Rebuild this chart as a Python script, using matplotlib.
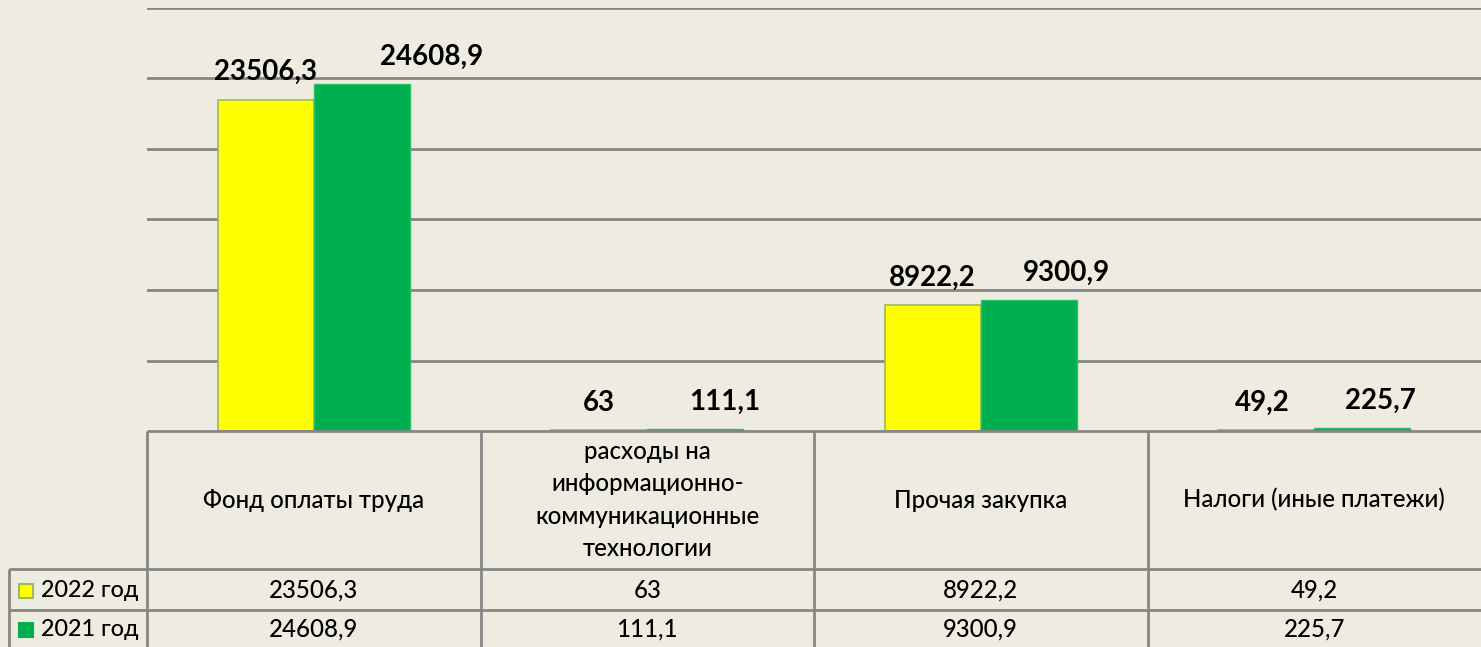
import matplotlib.pyplot as plt
from matplotlib.patches import Rectangle

# ── Data ─────────────────────────────────────────────────────────────────────
categories = [
    "Фонд оплаты труда",
    "расходы на\nинформационно-\nкоммуникационные\nтехнологии",
    "Прочая закупка",
    "Налоги (иные платежи)",
]
series_names = ["2022 год", "2021 год"]
vals_2022 = [23506.3, 63, 8922.2, 49.2]
vals_2021 = [24608.9, 111.1, 9300.9, 225.7]
labels_2022 = ["23506,3", "63", "8922,2", "49,2"]
labels_2021 = ["24608,9", "111,1", "9300,9", "225,7"]

# ── Style ────────────────────────────────────────────────────────────────────
BG     = "#EEECE1"
YELLOW = "#FFFF00"
GREEN  = "#00B050"
GRID   = "#868686"
FONT   = "Lato"
W, H   = 1481, 647
# label x-shifts (points) as placed in the original
shift_2022 = [0, 0, 0, -3]
shift_2021 = [50, 21, 27, 13]

plt.rcParams["font.family"] = [FONT, "DejaVu Sans"]

fig = plt.figure(figsize=(W / 100, H / 100), dpi=100, facecolor=BG)

# pixel layout of plot area
x0, x1 = 147, 1481
y_top, y_base = 8, 431
ax = fig.add_axes([x0 / W, 1 - y_base / H, (x1 - x0) / W, (y_base - y_top) / H])
ax.set_facecolor(BG)

n = len(categories)
idx = list(range(n))
bw = 0.288
ax.bar([i - bw / 2 for i in idx], vals_2022, width=bw, color=YELLOW,
       edgecolor="#9BBB59", linewidth=1.2, zorder=3)
ax.bar([i + bw / 2 for i in idx], vals_2021, width=bw, color=GREEN,
       edgecolor="#2BBF6A", linewidth=1.0, zorder=3)

for i in idx:
    ax.annotate(labels_2022[i], (i - bw / 2, vals_2022[i]),
                xytext=(shift_2022[i], 14), textcoords="offset points",
                ha="center", va="baseline", fontsize=20, fontweight="bold")
    ax.annotate(labels_2021[i], (i + bw / 2, vals_2021[i]),
                xytext=(shift_2021[i], 14), textcoords="offset points",
                ha="center", va="baseline", fontsize=20, fontweight="bold")

ax.set_xlim(-0.5, n - 0.5)
ax.set_ylim(0, 30000)
ax.set_yticks(range(5000, 30001, 5000))
ax.yaxis.grid(True, color=GRID, linewidth=2)
ax.set_axisbelow(True)
ax.tick_params(left=False, bottom=False, labelleft=False, labelbottom=False)
for s in ax.spines.values():
    s.set_visible(False)

# ── Data table (drawn in pixel coordinates) ─────────────────────────────────
tab = fig.add_axes([0, 0, 1, 1], facecolor="none")
tab.set_xlim(0, W)
tab.set_ylim(H, 0)
tab.axis("off")

col_w = (x1 - x0) / n
col_edges = [x0 + k * col_w for k in range(n + 1)]
row_edges = [y_base, 569, 610, 651]
lbl_left = 9
lc = dict(color=GRID, linewidth=2, solid_capstyle="butt")

tab.plot([x0, x1], [row_edges[0]] * 2, **lc)
for y in row_edges[1:]:
    tab.plot([lbl_left, x1], [y, y], **lc)
for x in col_edges[:-1]:
    tab.plot([x, x], [row_edges[0], row_edges[-1]], **lc)
tab.plot([lbl_left, lbl_left], [row_edges[1], row_edges[-1]], **lc)

fs = 17.3
tc = "#000000"
for k, cat in enumerate(categories):
    cx = (col_edges[k] + col_edges[k + 1]) / 2
    tab.text(cx, (row_edges[0] + row_edges[1]) / 2, cat, ha="center",
             va="center", fontsize=fs, linespacing=1.5, color=tc,
             fontweight="medium")
    tab.text(cx, (row_edges[1] + row_edges[2]) / 2 + 1, labels_2022[k],
             ha="center", va="center", fontsize=fs, color=tc,
             fontweight="medium")
    tab.text(cx, (row_edges[2] + row_edges[3]) / 2 - 1, labels_2021[k],
             ha="center", va="center", fontsize=fs, color=tc,
             fontweight="medium")

keys = [(YELLOW, "#9BBB59"), (GREEN, GREEN)]
for r, (name, (fc, ec)) in enumerate(zip(series_names, keys)):
    yc = (row_edges[r + 1] + row_edges[r + 2]) / 2 + (1 if r == 0 else -1)
    tab.add_patch(Rectangle((19, yc - 7), 14, 14, facecolor=fc, edgecolor=ec,
                            linewidth=1.5))
    tab.text(41, yc, name, ha="left", va="center", fontsize=fs - 0.5,
             color=tc, fontweight="medium")

fig.savefig("out.png", dpi=100, facecolor=BG)
